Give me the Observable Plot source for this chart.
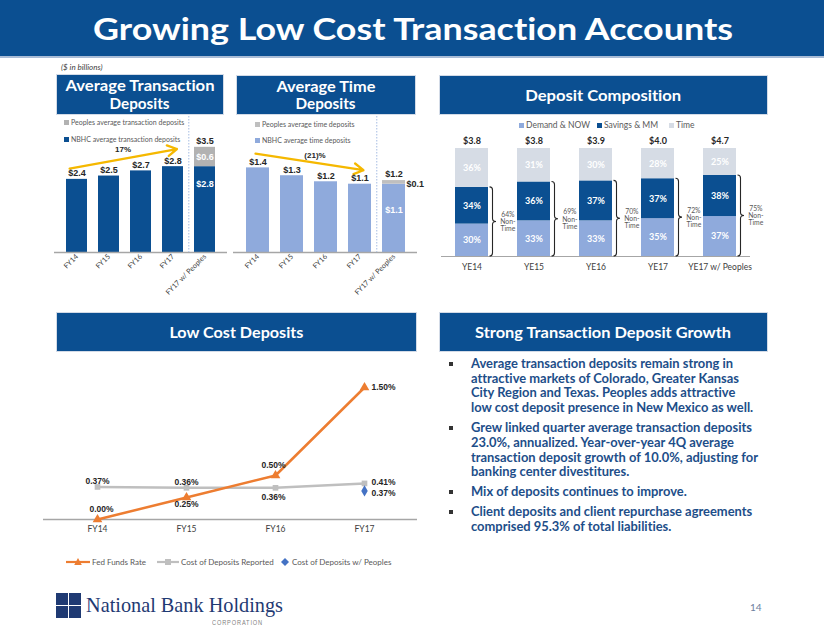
<!DOCTYPE html>
<html>
<head>
<meta charset="utf-8">
<script src="https://cdn.jsdelivr.net/npm/d3@7"></script>
<script src="https://cdn.jsdelivr.net/npm/@observablehq/plot@0.6"></script>
<style>
  html,body{margin:0;padding:0;background:#fff;}
  #slide{position:relative;width:824px;height:637px;overflow:hidden;font-family:Lato,"Open Sans",sans-serif;color:#404040;font-variant-ligatures:none;}
  #slide svg text{font-variant-ligatures:none;}
  .a{position:absolute;}
  #band{left:0;top:0;width:824px;height:56px;background:#0b4f91;}
  #bandline{left:0;top:56px;width:824px;height:2px;background:#a9bcd6;}
  #title{top:10px;left:93px;color:#fff;font-weight:700;font-size:30.5px;line-height:36px;white-space:nowrap;transform-origin:0 0;}
  .hdr{background:#0b4f91;color:#fff;font-weight:700;font-size:14.5px;line-height:17.5px;display:flex;flex-direction:column;align-items:center;justify-content:center;box-shadow:0 0 0 1px #d3dbe7;}
  .hdr span{white-space:nowrap;display:inline-block;}
  .hdr.one{font-size:16px;}
  .leg{font-size:7px;line-height:9px;color:#595959;white-space:nowrap;}
  .sq{display:inline-block;width:5px;height:5px;margin-right:2px;vertical-align:0px;}
  .lg{font-size:8px;line-height:10px;color:#595959;white-space:nowrap;display:flex;align-items:center;}
  .lg svg{margin-right:2px;}
  #bullets{left:440px;top:356px;width:380px;color:#1d4e89;font-weight:700;font-size:13px;line-height:14.7px;}
  .b{position:relative;padding-left:31px;margin-bottom:5.3px;white-space:nowrap;}
  .b i{position:absolute;left:9px;top:5.5px;width:4px;height:4px;background:#333;}
  .b span{display:inline-block;}
  .plot{position:absolute;}
</style>
</head>
<body>
<div id="slide">
  <div id="band" class="a"></div>
  <div id="bandline" class="a"></div>
  <div id="title" class="a">Growing Low Cost Transaction Accounts</div>

  <div class="a" style="left:61px;top:62px;font-size:8px;line-height:10px;font-style:italic;color:#404040;">($ in billions)</div>

  <div class="a hdr" style="left:57px;top:75px;width:166px;height:39px;"><span data-w="149">Average Transaction</span><span data-w="60">Deposits</span></div>
  <div class="a hdr" style="left:237px;top:76px;width:178px;height:38px;"><span data-w="99">Average Time</span><span data-w="60">Deposits</span></div>
  <div class="a hdr one" style="left:440px;top:76px;width:327px;height:38px;"><span data-w="156">Deposit Composition</span></div>
  <div class="a hdr one" style="left:57px;top:313px;width:359px;height:38px;"><span data-w="134">Low Cost Deposits</span></div>
  <div class="a hdr one" style="left:440px;top:313px;width:327px;height:38px;"><span data-w="256">Strong Transaction Deposit Growth</span></div>

  <div id="chart1" class="plot" style="left:40px;top:116px;"></div>
  <div id="chart2" class="plot" style="left:230px;top:116px;"></div>
  <div id="chart3" class="plot" style="left:430px;top:128px;"></div>
  <div id="chart4" class="plot" style="left:40px;top:370px;"></div>

  <div class="a leg" style="left:64px;top:118px;"><span class="sq" style="background:#b2b2b2"></span>Peoples average transaction deposits</div>
  <div class="a leg" style="left:64px;top:135px;"><span class="sq" style="background:#0b4f91"></span>NBHC average transaction deposits</div>
  <div class="a leg" style="left:255px;top:120px;"><span class="sq" style="background:#bfbfbf"></span>Peoples average time deposits</div>
  <div class="a leg" style="left:255px;top:136px;"><span class="sq" style="background:#8faadc"></span>NBHC average time deposits</div>

  <div class="a lg" style="left:519px;top:120px;font-size:8.5px;"><span class="sq" style="background:#8faadc"></span>Demand &amp; NOW</div>
  <div class="a lg" style="left:597px;top:120px;font-size:8.5px;"><span class="sq" style="background:#0b4f91"></span>Savings &amp; MM</div>
  <div class="a lg" style="left:669px;top:120px;font-size:8.5px;"><span class="sq" style="background:#d6dce5"></span>Time</div>

  <div class="a lg" style="left:66px;top:557px;"><svg width="24" height="10"><line x1="0" y1="5" x2="24" y2="5" stroke="#ed7d31" stroke-width="2.2"/><path d="M12,1 L15.8,8 L8.2,8Z" fill="#ed7d31"/></svg>Fed Funds Rate</div>
  <div class="a lg" style="left:157px;top:557px;"><svg width="22" height="10"><line x1="0" y1="5" x2="22" y2="5" stroke="#bfbfbf" stroke-width="2.2"/><rect x="8" y="2" width="6" height="6" fill="#bfbfbf"/></svg>Cost of Deposits Reported</div>
  <div class="a lg" style="left:280px;top:557px;"><svg width="10" height="10"><path d="M5,1 L9,5 L5,9 L1,5Z" fill="#4472c4"/></svg>Cost of Deposits w/ Peoples</div>

  <div id="bullets" class="a"></div>

  <div class="a" style="left:56px;top:593px;width:12px;height:12px;background:#1f3a73"></div>
  <div class="a" style="left:69px;top:593px;width:12px;height:12px;background:#1f3a73"></div>
  <div class="a" style="left:56px;top:606px;width:12px;height:12px;background:#1f3a73"></div>
  <div class="a" style="left:69px;top:606px;width:12px;height:12px;background:#1f3a73"></div>
  <div id="logo" class="a" style="left:86px;top:595px;font-family:'Liberation Serif',serif;font-size:21px;line-height:21px;color:#1f3a73;white-space:nowrap;transform-origin:0 0;">National Bank Holdings</div>
  <div id="corp" class="a" style="left:212px;top:619px;font-family:'Liberation Sans',sans-serif;font-size:6.5px;line-height:7px;letter-spacing:1px;color:#7f7f7f;white-space:nowrap;transform-origin:0 0;">CORPORATION</div>
  <div class="a" style="left:750px;top:601px;font-size:10px;line-height:12px;color:#6d7fa0;">14</div>
</div>

<script>
// ---------------- data ----------------
const txYears = ["FY14", "FY15", "FY16", "FY17", "FY17 w/ Peoples"];
const txNBHC = [2.42, 2.53, 2.70, 2.84, 2.84];
const txPeoples = [0, 0, 0, 0, 0.64];
const txGrowth = "17%";

const tdYears = ["FY14", "FY15", "FY16", "FY17", "FY17 w/ Peoples"];
const tdNBHC = [1.40, 1.27, 1.17, 1.13, 1.13];
const tdPeoples = [0, 0, 0, 0, 0.06];
const tdGrowth = "(21)%";

const compYears = ["YE14", "YE15", "YE16", "YE17", "YE17 w/ Peoples"];
const compTotals = [3.8, 3.8, 3.9, 4.0, 4.7];
const compDemand = [30, 33, 33, 35, 37];
const compSavings = [34, 36, 37, 37, 38];
const compTime = [36, 31, 30, 28, 25];
const compTypes = ["Demand & NOW", "Savings & MM", "Time"];

const lcYears = ["FY14", "FY15", "FY16", "FY17"];
const fedFunds = [0.00, 0.25, 0.50, 1.50];
const costReported = [0.37, 0.36, 0.36, 0.41];
const costPeoplesYear = "FY17";
const costPeoples = 0.37;

const bulletLines = [
  ["Average transaction deposits remain strong in", "attractive markets of Colorado, Greater Kansas", "City Region and Texas. Peoples adds attractive", "low cost deposit presence in New Mexico as well."],
  ["Grew linked quarter average transaction deposits", "23.0%, annualized. Year-over-year 4Q average", "transaction deposit growth of 10.0%, adjusting for", "banking center divestitures."],
  ["Mix of deposits continues to improve."],
  ["Client deposits and client repurchase agreements", "comprised 95.3% of total liabilities."]
];

// ---------------- styles ----------------
const BLUE = "#0b4f91";
const LABEL_FONT = "'Liberation Sans', Arial, sans-serif";
const AXIS_FONT = "Lato, sans-serif";

// ---------------- bar charts (transaction / time) ----------------
function depositBars(o) {
  const W = 190, H = 181, mb = 45, pad = 0.33;
  const step = (W - o.ml - o.mr) / (o.years.length + pad);
  const bw = step * (1 - pad);
  const rows = [];
  o.years.forEach((yr, i) => {
    rows.push({year: yr, series: "NBHC", value: o.nbhc[i]});
    if (o.peoples[i] > 0) rows.push({year: yr, series: "Peoples", value: o.peoples[i]});
  });
  const tot = o.years.map((yr, i) => ({year: yr, nbhc: o.nbhc[i], peoples: o.peoples[i], total: o.nbhc[i] + o.peoples[i]}));
  const plain = tot.filter(d => d.peoples === 0);
  const combo = tot.filter(d => d.peoples > 0);
  const fmt = v => "$" + v.toFixed(1);
  const lbl = {fontFamily: LABEL_FONT, fontWeight: "bold", fontSize: 9};
  return Plot.plot({
    width: W, height: H, marginTop: 0, marginBottom: mb, marginLeft: o.ml, marginRight: o.mr,
    style: {fontFamily: AXIS_FONT, fontSize: "7.2px", color: "#404040", background: "transparent", overflow: "visible"},
    x: {domain: o.years, padding: pad, label: null, tickRotate: -45, tickSize: 0, tickPadding: 3},
    y: {domain: [0, o.ymax], axis: null},
    color: {domain: ["NBHC", "Peoples"], range: [o.c1, o.c2]},
    marks: [
      Plot.barY(rows, {x: "year", y: "value", fill: "series"}),
      Plot.ruleY([0], {stroke: "#a6a6a6", strokeWidth: 1.5}),
      Plot.ruleX([o.years[o.years.length - 1]], {dx: -step / 2, stroke: "#b4c7e7", strokeWidth: 1.2, strokeDasharray: "1.5,1.5"}),
      Plot.arrow([o.arrow], {x1: "from", y1: "y1", x2: "to", y2: "y2", stroke: "#f5b800", strokeWidth: 2.3,
        headLength: 7, insetStart: o.arrow.insetStart, insetEnd: o.arrow.insetEnd}),
      Plot.text(plain, {x: "year", y: "total", text: d => fmt(d.total), dy: -6, fill: "#262626", ...lbl}),
      Plot.text(combo, {x: "year", y: "total", text: d => fmt(d.total), dy: -6, fill: "#262626", ...lbl}),
      Plot.text(combo, {x: "year", y: d => d.nbhc * o.inFrac, text: d => fmt(d.nbhc), fill: "#fff", ...lbl}),
      Plot.text(combo, {x: "year", y: d => d.nbhc + d.peoples / 2, text: d => fmt(d.peoples),
        fill: o.pOut ? "#262626" : "#fff", dx: o.pOut ? bw / 2 + 1 : 0, dy: o.pOut ? 2 : 0,
        textAnchor: o.pOut ? "start" : "middle", ...lbl}),
      Plot.text([o.arrow], {x: "labelAt", y: "labelY", text: "label", dx: o.arrow.labelDx, fill: "#262626",
        fontFamily: LABEL_FONT, fontWeight: "bold", fontSize: 8})
    ]
  });
}

document.getElementById("chart1").append(depositBars({
  years: txYears, nbhc: txNBHC, peoples: txPeoples, ml: 14, mr: 3, ymax: 4.5,
  c1: BLUE, c2: "#b2b2b2", inFrac: 0.8, pOut: false,
  arrow: {from: "FY14", to: "FY17", y1: 2.82, y2: 3.4, insetStart: -7.5, insetEnd: -4,
          label: txGrowth, labelAt: "FY16", labelY: 3.4, labelDx: -18}
}));

document.getElementById("chart2").append(depositBars({
  years: tdYears, nbhc: tdNBHC, peoples: tdPeoples, ml: 3, mr: 3, ymax: 2.25,
  c1: "#8faadc", c2: "#bfbfbf", inFrac: 0.62, pOut: true,
  arrow: {from: "FY14", to: "FY17", y1: 1.63, y2: 1.37, insetStart: -2.5, insetEnd: -3.5,
          label: tdGrowth, labelAt: "FY16", labelY: 1.6, labelDx: -11}
}));

// ---------------- deposit composition ----------------
(function () {
  const W = 340, H = 148, ml = 11, mr = 20, mt = 20, mb = 20, pi = 0.46, po = 0.2;
  const step = (W - ml - mr) / (compYears.length - pi + 2 * po);
  const bw = step * (1 - pi);
  const rows = [];
  const nonTime = [];
  compYears.forEach((yr, i) => {
    const vals = [compDemand[i], compSavings[i], compTime[i]];
    let base = 0;
    vals.forEach((v, k) => {
      rows.push({year: yr, type: compTypes[k], y1: base, y2: base + v, pct: v});
      base += v;
    });
    nonTime.push({year: yr, nonTime: compDemand[i] + compSavings[i], total: compTotals[i], top: base});
  });
  const braces = (index, scales) => {
    const x = scales.x, y = scales.y;
    const b = x.bandwidth();
    const g = d3.create("svg:g").attr("fill", "none").attr("stroke", "#262626").attr("stroke-width", 1.1);
    nonTime.forEach(d => {
      const xl = x(d.year) + b + 1.5, xm = xl + 3, xt = xl + 6.5;
      const yt = y(d.nonTime), yb = y(0), ym = (yt + yb) / 2;
      g.append("path").attr("d",
        `M${xl},${yt} Q${xm},${yt} ${xm},${yt + 3} L${xm},${ym - 3} Q${xm},${ym} ${xt},${ym} ` +
        `Q${xm},${ym} ${xm},${ym + 3} L${xm},${yb - 3} Q${xm},${yb} ${xl},${yb}`);
    });
    return g.node();
  };
  const plot = Plot.plot({
    width: W, height: H, marginTop: mt, marginBottom: mb, marginLeft: ml, marginRight: mr,
    style: {fontFamily: AXIS_FONT, fontSize: "8.5px", color: "#404040", background: "transparent", overflow: "visible"},
    x: {domain: compYears, paddingInner: pi, paddingOuter: po, label: null, tickSize: 0, tickPadding: 7},
    y: {domain: [0, 100], axis: null},
    color: {domain: compTypes, range: ["#8faadc", BLUE, "#d6dce5"]},
    marks: [
      Plot.barY(rows, {x: "year", y1: "y1", y2: "y2", fill: "type"}),
      Plot.ruleY([0], {stroke: "#a6a6a6", strokeWidth: 1.2}),
      Plot.text(rows, {x: "year", y: d => (d.y1 + d.y2) / 2, text: d => d.pct + "%", fill: "#fff",
        fontWeight: "bold", fontSize: 9, fontFamily: AXIS_FONT}),
      Plot.text(nonTime, {x: "year", y: "top", text: d => "$" + d.total.toFixed(1), dy: -7, fill: "#262626",
        fontWeight: "bold", fontSize: 9, fontFamily: AXIS_FONT}),
      braces,
      Plot.text(nonTime, {x: "year", y: d => d.nonTime / 2, text: d => d.nonTime + "%\nNon-\nTime",
        dx: bw / 2 + 19, fontSize: 6.8, lineHeight: 1.05, fill: "#595959", fontFamily: AXIS_FONT})
    ]
  });
  document.getElementById("chart3").append(plot);
})();

// ---------------- low cost deposits ----------------
(function () {
  const fedRows = lcYears.map((yr, i) => ({year: yr, v: fedFunds[i]}));
  const costRows = lcYears.map((yr, i) => ({year: yr, v: costReported[i]}));
  const pplRows = [{year: costPeoplesYear, v: costPeoples}];
  const fedDy = [-10, 7, -10, 0], fedDx = [4, 0, -2, 7];
  const costDy = [-6, -6, 9, -1], costDx = [0, 0, -2, 7];
  const lbl = {fontFamily: LABEL_FONT, fontWeight: "bold", fontSize: 8.5, fill: "#262626"};
  const pct = v => v.toFixed(2) + "%";
  const marks = [
    Plot.ruleY([0], {stroke: "#a6a6a6", strokeWidth: 1.5}),
    Plot.line(costRows, {x: "year", y: "v", stroke: "#bfbfbf", strokeWidth: 2.5}),
    Plot.dot(costRows, {x: "year", y: "v", symbol: "square", fill: "#bfbfbf", r: 3.2}),
    Plot.line(fedRows, {x: "year", y: "v", stroke: "#ed7d31", strokeWidth: 2.5}),
    Plot.dot(fedRows, {x: "year", y: "v", symbol: "triangle", fill: "#ed7d31", r: 3.6}),
    Plot.dot(pplRows, {x: "year", y: "v", symbol: "diamond", fill: "#4472c4", r: 3.4, dy: 4}),
    Plot.text(pplRows, {x: "year", y: "v", text: d => pct(d.v), dx: 7, dy: 6.5, textAnchor: "start", ...lbl})
  ];
  fedRows.forEach((d, i) => marks.push(Plot.text([d], {x: "year", y: "v", text: r => pct(r.v),
    dy: fedDy[i], dx: fedDx[i], textAnchor: i === 3 ? "start" : "middle", ...lbl})));
  costRows.forEach((d, i) => marks.push(Plot.text([d], {x: "year", y: "v", text: r => pct(r.v),
    dy: costDy[i], dx: costDx[i], textAnchor: i === 3 ? "start" : "middle", ...lbl})));
  const plot = Plot.plot({
    width: 380, height: 169, marginTop: 17, marginBottom: 20, marginLeft: 3, marginRight: 3,
    style: {fontFamily: AXIS_FONT, fontSize: "8.5px", color: "#404040", background: "transparent", overflow: "visible"},
    x: {type: "point", domain: lcYears, padding: 0.585, label: null, tickSize: 0, tickPadding: 6},
    y: {domain: [0, 1.5], axis: null},
    marks
  });
  document.getElementById("chart4").append(plot);
})();

// ---------------- bullets ----------------
(function () {
  const box = document.getElementById("bullets");
  const spans = [];
  bulletLines.forEach(lines => {
    const p = document.createElement("div");
    p.className = "b";
    p.appendChild(document.createElement("i"));
    lines.forEach((t, k) => {
      const s = document.createElement("span");
      s.textContent = t;
      p.appendChild(s);
      spans.push(s);
      if (k < lines.length - 1) p.appendChild(document.createElement("br"));
    });
    box.appendChild(p);
  });
  const maxW = Math.max(...spans.map(s => s.getBoundingClientRect().width));
  box.style.fontSize = (13 * 287 / maxW).toFixed(2) + "px";
})();

// ---------------- fit text widths ----------------
function fitX(el, w) {
  const r = el.getBoundingClientRect().width;
  if (r > 0) el.style.transform = `scaleX(${w / r})`;
}
fitX(document.getElementById("title"), 640);
document.querySelectorAll(".hdr span").forEach(s => fitX(s, +s.dataset.w));
fitX(document.getElementById("logo"), 197);
fitX(document.getElementById("corp"), 51);
</script>
</body>
</html>
